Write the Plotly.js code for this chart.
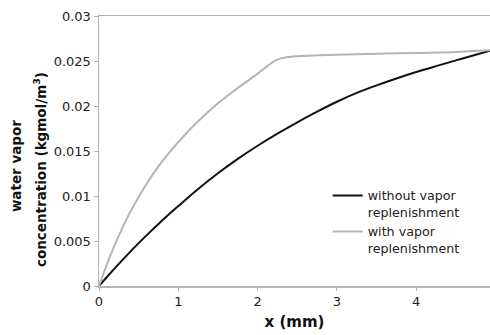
<!DOCTYPE html>
<html>
<head>
<meta charset="utf-8">
<script src="https://cdn.plot.ly/plotly-3.0.1.min.js"></script>
<style>html,body{margin:0;padding:0;background:#fff;}#chart{width:490px;height:335px;}</style>
</head>
<body>
<div id="chart"></div>
<script>
// x positions (mm) and water vapor concentration (kgmol/m^3)
var xWithout = [0, 0.125, 0.25, 0.375, 0.5, 0.625, 0.75, 0.875, 1.0, 1.25, 1.5, 1.75, 2.0, 2.25, 2.5, 2.75, 3.0, 3.25, 3.5, 3.75, 4.0, 4.25, 4.5, 4.75, 4.95];
var yWithout = [0, 0.00125, 0.00246, 0.00363, 0.00476, 0.00585, 0.0069, 0.00791, 0.00888, 0.01078, 0.01252, 0.01412, 0.01558, 0.01693, 0.01819, 0.01937, 0.02047, 0.02145, 0.02229, 0.02306, 0.02377, 0.02443, 0.02507, 0.02569, 0.02619];
var xWith = [0, 0.125, 0.25, 0.375, 0.5, 0.625, 0.75, 0.875, 1.0, 1.25, 1.5, 1.75, 2.0, 2.1, 2.2, 2.25, 2.3, 2.4, 2.5, 3.0, 3.5, 4.0, 4.5, 4.95];
var yWith = [0, 0.0030, 0.0056, 0.0079, 0.0099, 0.0117, 0.0133, 0.0147, 0.0160, 0.0183, 0.0203, 0.0220, 0.0236, 0.02428, 0.02492, 0.02515, 0.02532, 0.02545, 0.02552, 0.0257, 0.0258, 0.0259, 0.0260, 0.0262];
var seriesNames = ["without vapor<br>replenishment", "with vapor<br>replenishment"];
var xTicks = [0, 1, 2, 3, 4];
var yTicks = [0, 0.005, 0.01, 0.015, 0.02, 0.025, 0.03];
var yTickText = ["0", "0.005", "0.01", "0.015", "0.02", "0.025", "0.03"];

var font = "DejaVu Sans, Verdana, sans-serif";
var traces = [
  {x: xWithout, y: yWithout, name: seriesNames[0], mode: "lines",
   line: {color: "#111111", width: 2, shape: "spline", smoothing: 1}},
  {x: xWith, y: yWith, name: seriesNames[1], mode: "lines",
   line: {color: "#b4b4b4", width: 2, shape: "spline", smoothing: 0.8}}
];
var layout = {
  width: 490, height: 335,
  margin: {l: 99, r: 0, t: 16, b: 49},
  paper_bgcolor: "#fff", plot_bgcolor: "#fff",
  font: {family: font, size: 13, color: "#222"},
  showlegend: true,
  legend: {x: 0.585, y: 0.39, xanchor: "left", yanchor: "top", valign: "top",
           font: {family: font, size: 12.7, color: "#222"}, bgcolor: "rgba(0,0,0,0)",
           tracegroupgap: 7, itemwidth: 30},
  xaxis: {range: [0, 4.93], tickvals: xTicks, ticks: "outside", ticklen: 3, tickcolor: "#b4b4b4",
          showline: true, linecolor: "#b4b4b4", linewidth: 1.5, mirror: true,
          showgrid: false, zeroline: false, tickfont: {family: font, size: 13, color: "#222"},
          title: {text: "<b>x (mm)</b>", font: {family: font, size: 15, color: "#111"}, standoff: 8}},
  yaxis: {range: [0, 0.03], tickvals: yTicks, ticktext: yTickText, ticks: "outside", ticklen: 4,
          tickcolor: "#b4b4b4", showline: true, linecolor: "#b4b4b4", linewidth: 1.5,
          showgrid: false, zeroline: false, tickfont: {family: font, size: 13, color: "#222"}},
  annotations: [
    {text: "<b>water vapor</b>", xref: "paper", yref: "paper", x: -0.2123, y: 0.444,
     xanchor: "center", yanchor: "middle", textangle: -90, showarrow: false,
     font: {family: font, size: 13.5, color: "#111"}},
    {text: "<b>concentration (kgmol/m<sup>3</sup>)</b>", xref: "paper", yref: "paper", x: -0.1509, y: 0.433,
     xanchor: "center", yanchor: "middle", textangle: -90, showarrow: false,
     font: {family: font, size: 13.5, color: "#111"}}
  ]
};
Plotly.newPlot("chart", traces, layout, {staticPlot: true, displayModeBar: false});
</script>
</body>
</html>
